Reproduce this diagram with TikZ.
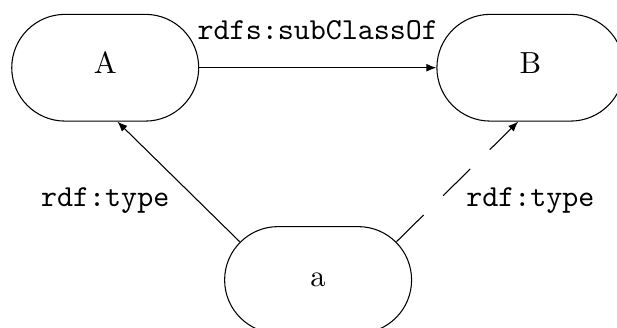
\documentclass[tikz,border=0pt]{standalone}
\usetikzlibrary{positioning,arrows.meta}
\tikzset{
	cls/.style={draw,line width=0.35,rounded corners=17.5pt,minimum width=61.3pt,minimum height=35pt,text height=7.5pt,text depth=3.5pt,inner sep=0pt},
	rel/.style={font=\ttfamily},
}
\begin{document}
\begin{tikzpicture}[x=1pt,y=1pt,>={Latex[length=3.3pt,width=2.6pt]}]
		\useasboundingbox (0,0) rectangle (202.3,-107.5);
		\clip (0,0) rectangle (202.3,-107.5);
		\node [cls] (A) at (34.5,-22.2) {A};
		\node [cls] (B) at (173.9,-22.2) {B};
		\node [cls] (a) at (104.3,-91.8) {a};
		\draw [->,line width=0.35] (A) to node[above=5.5pt,rel] {rdfs:subClassOf} (B);
		\draw [->,line width=0.35] ([shift={(5.13,-5.13)}]a.north west) to ([xshift=4pt]A.south);
		\draw [->,line width=0.35,dash pattern=on 12.5pt off 9pt] ([shift={(-5.13,-5.13)}]a.north east) to ([xshift=-4pt]B.south);
		\node [rel,below=18pt of A] (tA) {rdf:type};
		\node [rel,below=18pt of B] (tB) {rdf:type};
	\end{tikzpicture}
\end{document}
